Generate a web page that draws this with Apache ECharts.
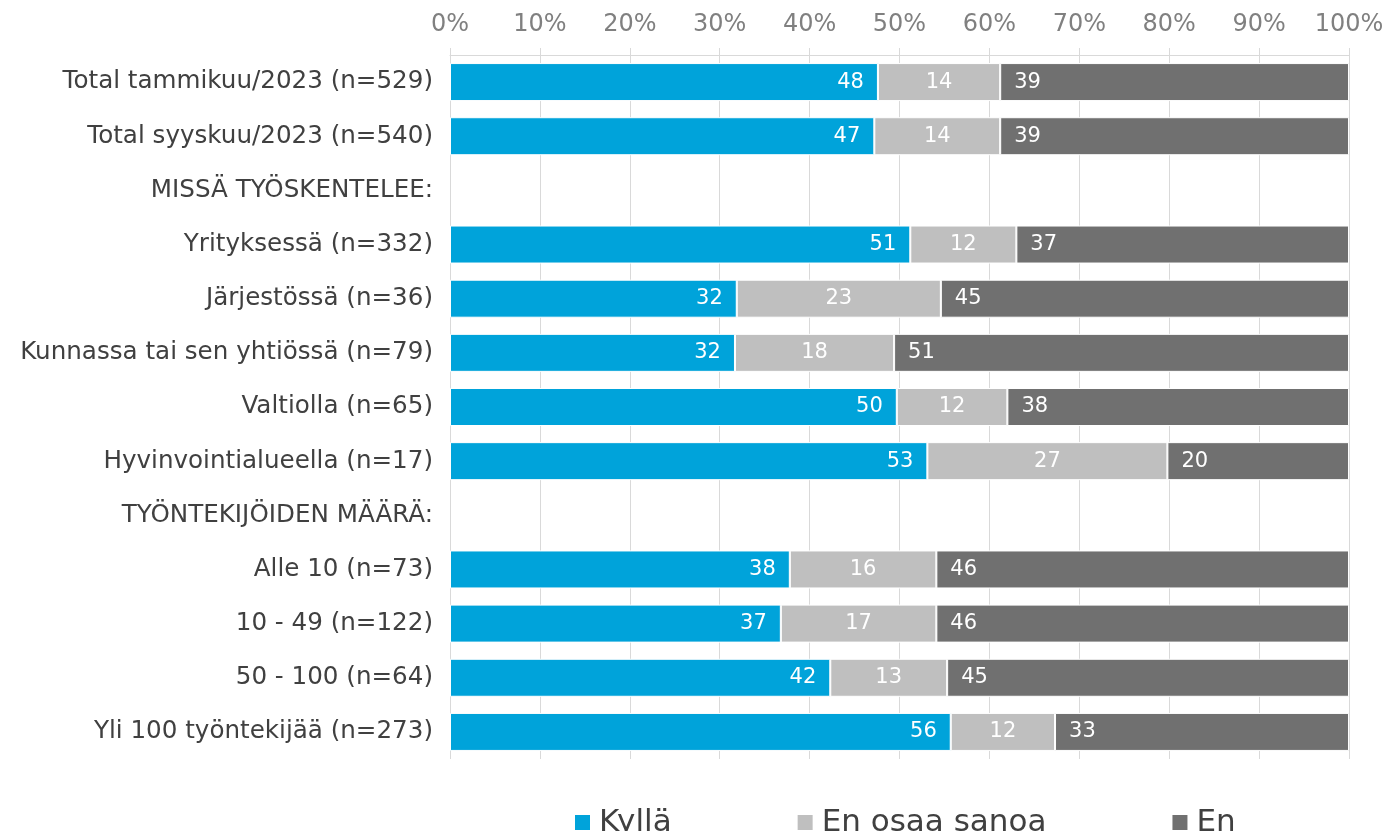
<!DOCTYPE html>
<html lang="fi">
<head>
    <meta charset="utf-8">
    <title>Kyllä / En osaa sanoa / En</title>
    <script type="text/javascript" src="https://cdn.jsdelivr.net/npm/echarts@6/dist/echarts.min.js"></script>
    <style>
        html, body { margin: 0; padding: 0; background: #fff; }
        #chart { width: 1388px; height: 831px; }
    </style>
</head>
<body>
<div id="chart"></div>
<script type="text/javascript">
    // rivit ylhäältä alas, väliotsikoilla ei ole arvoja
    var categories = [
        'Total tammikuu/2023 (n=529)',
        'Total syyskuu/2023 (n=540)',
        'MISSÄ TYÖSKENTELEE:',
        'Yrityksessä (n=332)',
        'Järjestössä (n=36)',
        'Kunnassa tai sen yhtiössä (n=79)',
        'Valtiolla (n=65)',
        'Hyvinvointialueella (n=17)',
        'TYÖNTEKIJÖIDEN MÄÄRÄ:',
        'Alle 10 (n=73)',
        '10 - 49 (n=122)',
        '50 - 100 (n=64)',
        'Yli 100 työntekijää (n=273)'
    ];
    var seriesNames = ['Kyllä', 'En osaa sanoa', 'En'];
    var kylla = [47.6, 47.2, '-', 51.2, 31.9, 31.7, 49.7, 53.1, '-', 37.8, 36.8, 42.3, 55.7];
    var enOsaa = [13.6, 14.0, '-', 11.8, 22.7, 17.7, 12.3, 26.7, '-', 16.3, 17.3, 13.0, 11.6];
    var en = [38.8, 38.8, '-', 37.0, 45.4, 50.6, 38.0, 20.2, '-', 45.9, 45.9, 44.7, 32.7];
    var xTicks = [0, 10, 20, 30, 40, 50, 60, 70, 80, 90, 100];

    var font = '"DejaVu Sans", Verdana, sans-serif';

    function labelStyle(pos) {
        return {
            show: true,
            position: pos,
            distance: 14,
            color: '#ffffff',
            fontSize: 21,
            fontFamily: font,
            formatter: function (p) { return Math.round(p.value); }
        };
    }

    var chart = echarts.init(document.getElementById('chart'));
    chart.setOption({
        animation: false,
        color: ['#00A3DA', '#BFBFBF', '#707070'],
        grid: { left: 450, right: 39, top: 55, bottom: 72 },
        legend: {
            data: seriesNames,
            left: 570,
            top: 802,
            itemWidth: 15,
            itemHeight: 15,
            itemGap: 126,
            icon: 'rect',
            itemStyle: { borderWidth: 0 },
            textStyle: { fontSize: 31, color: '#404040', fontFamily: font, padding: [0, 0, 0, 4] }
        },
        xAxis: {
            type: 'value',
            position: 'top',
            min: xTicks[0],
            max: xTicks[xTicks.length - 1],
            interval: 10,
            axisLine: { show: true, lineStyle: { color: '#d9d9d9' } },
            axisTick: { show: true, length: 7, lineStyle: { color: '#d9d9d9' } },
            splitLine: { show: true, lineStyle: { color: '#d9d9d9' } },
            axisLabel: {
                formatter: '{value}%',
                color: '#808080',
                fontSize: 24,
                fontFamily: font,
                margin: 18
            }
        },
        yAxis: {
            type: 'category',
            data: categories,
            inverse: true,
            axisLine: { show: false },
            axisTick: { show: false },
            axisLabel: { color: '#404040', fontSize: 24.6, fontFamily: font, margin: 17 }
        },
        series: [
            {
                name: seriesNames[0], type: 'bar', stack: 'a', barWidth: 38, data: kylla,
                itemStyle: { borderColor: '#fff', borderWidth: 1 },
                label: labelStyle('insideRight')
            },
            {
                name: seriesNames[1], type: 'bar', stack: 'a', barWidth: 38, data: enOsaa,
                itemStyle: { borderColor: '#fff', borderWidth: 1 },
                label: labelStyle('inside')
            },
            {
                name: seriesNames[2], type: 'bar', stack: 'a', barWidth: 38, data: en,
                itemStyle: { borderColor: '#fff', borderWidth: 1 },
                label: labelStyle('insideLeft')
            }
        ]
    });
</script>
</body>
</html>
